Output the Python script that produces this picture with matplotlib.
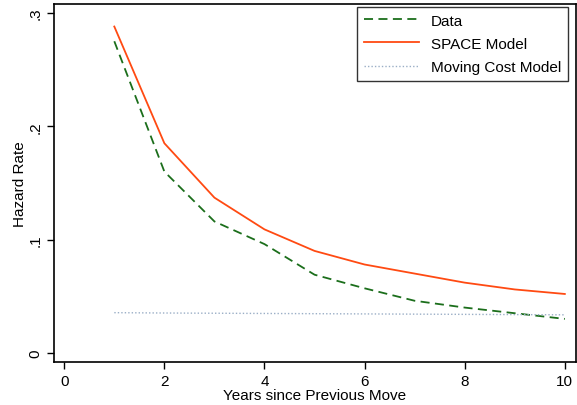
import matplotlib.pyplot as plt

plt.rcParams['font.family'] = ['Liberation Sans', 'DejaVu Sans']

years = [1, 2, 3, 4, 5, 6, 7, 8, 9, 10]
data = [0.275, 0.160, 0.116, 0.096, 0.069, 0.057, 0.046, 0.040, 0.035, 0.030]
space = [0.288, 0.185, 0.137, 0.109, 0.090, 0.078, 0.070, 0.062, 0.056, 0.052]
moving = [0.0355, 0.0352, 0.0350, 0.0348, 0.0346, 0.0344, 0.0342, 0.0340, 0.0338, 0.0336]

fig = plt.figure(figsize=(5.77, 4.06), dpi=100)
ax = fig.add_axes([0.094, 0.106, 0.904, 0.882])

ax.plot(years, data, color='#1b6e1b', linestyle=(0, (5, 3)), lw=1.3, label='Data')
ax.plot(years, space, color='#ff4a12', lw=1.3, label='SPACE Model')
ax.plot(years, moving, color='#9aaec6', linestyle=(0, (1, 1.5)), lw=1.0, label='Moving Cost Model')

ax.set_xlim(-0.2, 10.22)
ax.set_ylim(-0.008, 0.308)
ax.set_xticks([0, 2, 4, 6, 8, 10])
ax.set_yticks([0, 0.1, 0.2, 0.3])
ax.set_yticklabels(['0', '.1', '.2', '.3'], rotation=90, va='center')
ax.tick_params(labelsize=11, length=5, width=1)
ax.set_xlabel('Years since Previous Move', fontsize=11, labelpad=0)
ax.set_ylabel('Hazard Rate', fontsize=11, labelpad=1)
for s in ax.spines.values():
    s.set_linewidth(1.2)

leg = ax.legend(loc='upper right', fontsize=11, frameon=True, fancybox=False,
                edgecolor='black', handlelength=3.6, handletextpad=0.8,
                borderpad=0.45, labelspacing=0.6, borderaxespad=0,
                bbox_to_anchor=(0.985, 0.992))
leg.get_frame().set_linewidth(1.0)

fig.savefig('out.png', dpi=100)
